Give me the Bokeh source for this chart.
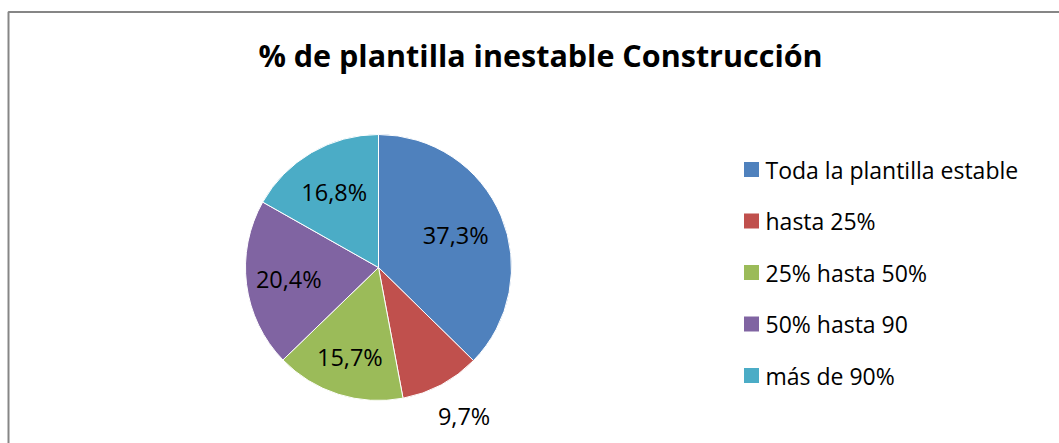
import math

from bokeh.core.properties import value
from bokeh.embed import file_html
from bokeh.models import ColumnDataSource, Range1d
from bokeh.plotting import figure
from bokeh.resources import INLINE

# --- data -------------------------------------------------------------
title = "% de plantilla inestable Construcción"
categories = [
    "Toda la plantilla estable",
    "hasta 25%",
    "25% hasta 50%",
    "50% hasta 90",
    "más de 90%",
]
shares = [37.3, 9.7, 15.7, 20.4, 16.8]
colors = ["#4F81BD", "#C0504D", "#9BBB59", "#8064A2", "#4BACC6"]

# --- layout (pixel space, y measured from the top) --------------------
W, H = 1059, 443
CX, CY, R = 378, 267, 133
label_radius = [0.63, 1.27, 0.71, 0.68, 0.66]  # fraction of R for each slice label
LEG_SQ_X, LEG_TXT_X, LEG_Y0, LEG_STEP, LEG_SQ = 751, 765, 169, 51.5, 15
FONT = "Open Sans"


def fy(py):
    return H - py


p = figure(
    width=W,
    height=H,
    x_range=Range1d(0, W),
    y_range=Range1d(0, H),
    output_backend="svg",
    toolbar_location=None,
    min_border=0,
)
p.axis.visible = False
p.grid.visible = False
p.outline_line_color = None
p.background_fill_color = "white"
p.border_fill_color = "white"

# chart frame (only top and left edges fall inside the page)
p.line(x=[8, 8, W + 5], y=[-5, fy(11.5), fy(11.5)], line_color="#868686", line_width=2)

# pie slices, clockwise from 12 o'clock
total = sum(shares)
starts, ends, mids = [], [], []
acc = 0.0
for v in shares:
    a0 = math.pi / 2 - 2 * math.pi * acc / total
    acc += v
    a1 = math.pi / 2 - 2 * math.pi * acc / total
    starts.append(a0)
    ends.append(a1)
    mids.append((a0 + a1) / 2)

src = ColumnDataSource(dict(start=starts, end=ends, color=colors, cat=categories))
p.wedge(
    x=CX, y=fy(CY), radius=R,
    start_angle="start", end_angle="end", direction="clock",
    fill_color="color", line_color="white", line_width=1, source=src,
)

# slice value labels
lab = ColumnDataSource(dict(
    x=[CX + R * f * math.cos(m) + (6 if f > 1 else 0) for f, m in zip(label_radius, mids)],
    y=[fy(CY) + R * f * math.sin(m) for f, m in zip(label_radius, mids)],
    t=[f"{v:.1f}".replace(".", ",") + "%" for v in shares],
))
p.text(x="x", y="y", text="t", source=lab, text_align="center", text_baseline="middle",
       text_font=value(FONT), text_font_size="23.5px", text_color="black")

# title
p.text(x=[540], y=[fy(54)], text=[title], text_align="center", text_baseline="middle",
       text_font=value(FONT), text_font_style="bold", text_font_size="30.5px", text_color="black")

# legend
leg_y = [fy(LEG_Y0 + i * LEG_STEP) for i in range(len(categories))]
p.rect(x=[LEG_SQ_X] * len(categories), y=leg_y, width=LEG_SQ, height=LEG_SQ,
       fill_color=colors, line_color=None)
p.text(x=[LEG_TXT_X] * len(categories), y=leg_y, text=categories, text_align="left",
       text_baseline="middle", text_font=value(FONT), text_font_size="23px", text_color="black")

open("out.html", "w").write(file_html(p, INLINE))
